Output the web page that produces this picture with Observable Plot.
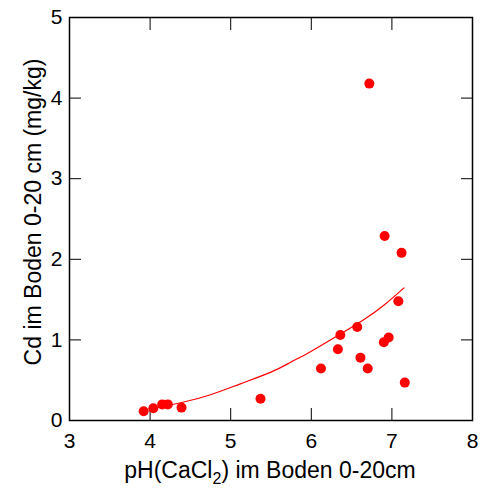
<!DOCTYPE html>
<html><head><meta charset="utf-8">
<script src="https://cdn.jsdelivr.net/npm/d3@7"></script>
<script src="https://cdn.jsdelivr.net/npm/@observablehq/plot@0.6"></script>
<style>body{margin:0;background:#fff;font-family:"Liberation Sans",Arial,sans-serif}</style>
</head><body><div id="chart"></div>
<script>
const ph = [3.92,4.04,4.15,4.22,4.39,5.37,6.12,6.33,6.36,6.57,6.61,6.70,6.72,6.90,6.91,6.96,7.08,7.12,7.16];
const cd = [0.115,0.153,0.20,0.20,0.16,0.27,0.645,0.885,1.06,1.16,0.78,0.645,4.18,0.97,2.29,1.03,1.48,2.08,0.47];
const fitX = [4.0,4.38,4.75,5.12,5.50,5.74,6.0,6.34,6.65,6.9,7.15];
const fitY = [0.145,0.22,0.32,0.455,0.60,0.72,0.86,1.06,1.25,1.43,1.646];
const xTicks = [3,4,5,6,7,8];
const yTicks = [0,1,2,3,4,5];

const points = ph.map((x,i)=>({x, y: cd[i]}));
const fit = fitX.map((x,i)=>({x, y: fitY[i]}));

const chart = Plot.plot({
  width: 484, height: 490,
  marginLeft: 69, marginRight: 12, marginTop: 17, marginBottom: 70,
  style: {fontFamily: '"Liberation Sans", Arial, sans-serif', fontSize: "21px", color: "#000", background: "#fff"},
  x: {domain: [3,8]},
  y: {domain: [0,5]},
  marks: [
    Plot.axisX(xTicks, {anchor: "bottom", tickSize: -12, tickPadding: 25, tickFormat: "d", label: null, stroke: "#000"}),
    Plot.axisX(xTicks, {anchor: "top", tickSize: -12, tickFormat: () => "", label: null, stroke: "#000"}),
    Plot.axisY(yTicks, {anchor: "left", tickSize: -12, tickPadding: 19, tickFormat: "d", label: null, stroke: "#000"}),
    Plot.axisY(yTicks, {anchor: "right", tickSize: -12, tickFormat: () => "", label: null, stroke: "#000"}),
    Plot.frame({stroke: "#000", strokeWidth: 1.5}),
    Plot.line(fit, {x: "x", y: "y", stroke: "#ff0000", strokeWidth: 1.2, curve: "natural"}),
    Plot.dot(points, {x: "x", y: "y", r: 5, fill: "#ff0000"})
  ]
});
document.getElementById("chart").appendChild(chart);

const svg = d3.select(chart);
const xt = svg.append("text")
  .attr("x", 270).attr("y", 478)
  .attr("text-anchor", "middle")
  .attr("font-size", 23).attr("fill", "#000");
xt.append("tspan").text("pH(CaCl");
xt.append("tspan").attr("font-size", 16).attr("dy", 6).text("2");
xt.append("tspan").attr("dy", -6).text(") im Boden 0-20cm");

svg.append("text")
  .attr("transform", "translate(41,212) rotate(-90)")
  .attr("text-anchor", "middle")
  .attr("font-size", 23).attr("fill", "#000")
  .text("Cd im Boden 0-20 cm (mg/kg)");
</script></body></html>
